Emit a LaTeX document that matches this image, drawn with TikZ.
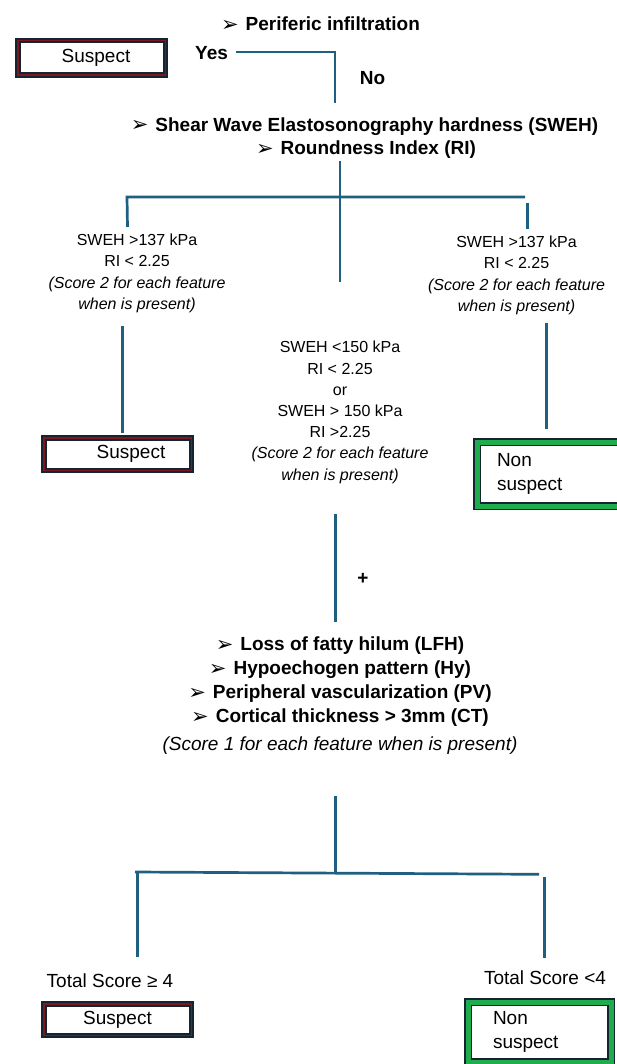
\documentclass[tikz,border=0pt]{standalone}
\usepackage{fontspec}
\setmainfont{Liberation Sans}
\newfontfamily\dejavu{DejaVu Sans}
\definecolor{linec}{RGB}{31,96,128}
\definecolor{navyb}{RGB}{22,36,50}
\definecolor{redb}{RGB}{125,24,30}
\definecolor{greenb}{RGB}{30,172,76}
\newcommand{\myarrow}{\raisebox{-0.5pt}{\dejavu\bfseries\fontsize{21}{21}\selectfont ➢}\hspace{7pt}}
\begin{document}
\begin{tikzpicture}[x=1pt,y=-1pt,
  conn/.style={draw=linec, line width=2.7pt},
  suspbox/.style={draw=navyb, line width=2pt, double=redb, double distance=1.5pt,
    inner sep=0pt, font=\fontsize{19}{23}\selectfont},
  nonbox/.style={draw=navyb, line width=1.6pt, double=greenb, double distance=5pt,
    inner ysep=0pt, align=left, font=\fontsize{19}{24}\selectfont},
  head/.style={font=\bfseries\fontsize{19}{24}\selectfont, inner sep=0pt},
  col/.style={align=center, font=\fontsize{16}{21.2}\selectfont, inner sep=0pt},
  tot/.style={font=\fontsize{19}{23}\selectfont, inner sep=0pt},
]
\useasboundingbox (0,0) rectangle (616,1064);

% ---- top ----
\node[head, anchor=base] (peri) at (320.5,31) {\myarrow Periferic infiltration};
\node[suspbox, minimum width=147.5pt, minimum height=34.5pt] (s1) at (91.5,58) {\hspace*{9pt}Suspect};
\node[head, anchor=base] (yes) at (211.5,60) {Yes};
\node[head, anchor=base] (no) at (372.5,85) {No};
\node[head, anchor=base] (sweh) at (364.5,131.5) {\myarrow Shear Wave Elastosonography hardness (SWEH)};
\node[head, anchor=base] (ri) at (366,155) {\myarrow Roundness Index (RI)};

\coordinate (yA) at (236,52);
\coordinate (yB) at (335,52);
\coordinate (yC) at (335,103);
\draw[conn] (yA) -- (yB) -- (yC);

% ---- first split ----
\coordinate (t1) at (340,161);
\coordinate (t2) at (340,282);
\coordinate (bL) at (127,197);
\coordinate (bR) at (525,197);
\coordinate (dL) at (127.5,227);
\coordinate (rA) at (527.3,203);
\coordinate (rB) at (527.3,229);
\draw[conn] (t1) -- (t2);
\draw[conn] (dL) -- (bL) -- (bR);
\draw[conn] (rA) -- (rB);

\node[col] (lt) at (137,273.4) {SWEH >137 kPa\\RI < 2.25\\{\itshape (Score 2 for each feature}\\{\itshape when is present)}};
\node[col] (mt) at (340,412.4) {SWEH <150 kPa\\RI < 2.25\\or\\SWEH > 150 kPa\\RI >2.25\\{\itshape (Score 2 for each feature}\\{\itshape when is present)}};
\node[col] (rt) at (516.5,275.4) {SWEH >137 kPa\\RI < 2.25\\{\itshape (Score 2 for each feature}\\{\itshape when is present)}};

\node[suspbox, minimum width=147.5pt, minimum height=32.5pt] (s2) at (117.5,454) {\hspace*{27pt}Suspect};
\node[nonbox, minimum width=145pt, minimum height=64pt, text width=105pt, inner xsep=20pt] (n1) at (549.5,474) {Non\\suspect};

\coordinate (lA) at (122.6,326);
\coordinate (lB) at (122.6,433);
\coordinate (qA) at (546.2,323.3);
\coordinate (qB) at (546.2,429.3);
\draw[conn] (lA) -- (lB);
\draw[conn] (qA) -- (qB);

% ---- plus ----
\coordinate (pA) at (335.2,514);
\coordinate (pB) at (335.2,621.7);
\draw[conn] (pA) -- (pB);
\node[head] (plus) at (363,579) {+};

\node[align=center, inner sep=0pt, font=\bfseries\fontsize{19}{24}\selectfont] (feat) at (340,696)
 {\myarrow Loss of fatty hilum (LFH)\\
  \myarrow Hypoechogen pattern (Hy)\\
  \myarrow Peripheral vascularization (PV)\\
  \myarrow Cortical thickness > 3mm (CT)\\[4pt]
  {\mdseries\itshape (Score 1 for each feature when is present)}};

% ---- final split ----
\coordinate (fA) at (335.2,796);
\coordinate (fB) at (335.2,874);
\coordinate (gL) at (135,872);
\coordinate (gR) at (539,874.3);
\coordinate (hT) at (137.5,872.5);
\coordinate (hL) at (137.5,956.7);
\coordinate (kA) at (544.2,876.7);
\coordinate (kB) at (544.2,958.3);
\draw[conn] (fA) -- (fB);
\draw[conn] (gL) -- (gR);
\draw[conn] (hT) -- (hL);
\draw[conn] (kA) -- (kB);

\node[tot, anchor=base] (tl) at (110,987) {Total Score ≥ 4};
\node[tot, anchor=base] (tr) at (545,984) {Total Score <4};

\node[suspbox, minimum width=147.5pt, minimum height=31.5pt] (s3) at (117.5,1019.5) {Suspect};
\node[nonbox, minimum width=143pt, minimum height=60pt, text width=93pt, inner xsep=25pt] (n2) at (539.5,1032) {Non\\suspect};
\end{tikzpicture}
\end{document}
